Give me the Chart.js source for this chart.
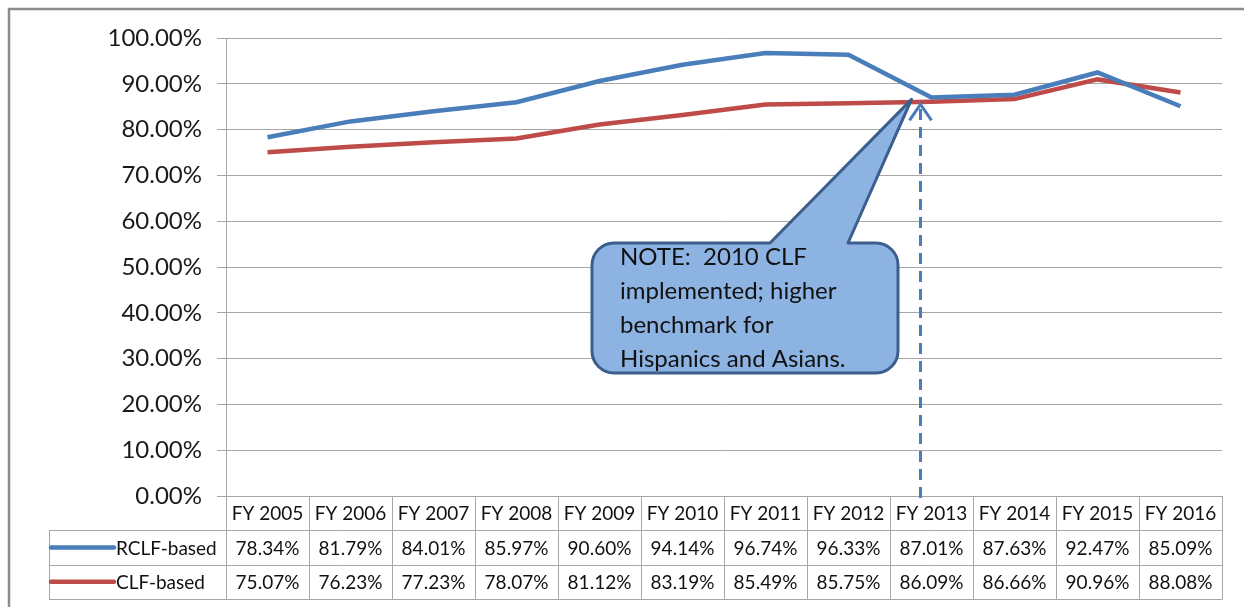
<!DOCTYPE html>
<html>
<head>
<meta charset="utf-8">
<script src="https://cdn.jsdelivr.net/npm/chart.js@4.4.1/dist/chart.umd.min.js"></script>
<style>
html,body{margin:0;padding:0;background:#fff;}
#wrap{width:1244px;height:607px;position:relative;}
</style>
</head>
<body>
<div id="wrap"><canvas id="c" width="1244" height="607"></canvas></div>
<script>
const categories = ['FY 2005','FY 2006','FY 2007','FY 2008','FY 2009','FY 2010','FY 2011','FY 2012','FY 2013','FY 2014','FY 2015','FY 2016'];
const rclfBased = [78.34, 81.79, 84.01, 85.97, 90.60, 94.14, 96.74, 96.33, 87.01, 87.63, 92.47, 85.09];
const clfBased  = [75.07, 76.23, 77.23, 78.07, 81.12, 83.19, 85.49, 85.75, 86.09, 86.66, 90.96, 88.08];
const seriesNames = ['RCLF-based', 'CLF-based'];
const noteLines = ['NOTE:  2010 CLF', 'implemented; higher', 'benchmark for', 'Hispanics and Asians.'];

const BLUE = '#4A7EBB';
const RED = '#BE4B48';
const GRID = '#A6A6A6';
const FONT = 'Lato, "Open Sans", sans-serif';

const overlay = {
  id: 'overlay',
  beforeDraw(chart) {
    const ctx = chart.ctx;
    ctx.save();
    ctx.strokeStyle = '#8C8C8C';
    ctx.lineWidth = 2.5;
    ctx.beginPath();
    ctx.moveTo(9, 640);
    ctx.lineTo(9, 9);
    ctx.lineTo(1260, 9);
    ctx.stroke();
    ctx.restore();
  },
  afterDraw(chart) {
    const ctx = chart.ctx;
    const xs = chart.scales.x, ys = chart.scales.y;
    const ca = chart.chartArea;
    const n = categories.length;
    const cw = (ca.right - ca.left) / n;
    const top = ca.bottom;
    const rowH = 34.3;
    const r1 = top + rowH, r2 = top + 2 * rowH, r3 = top + 3 * rowH;
    const tableLeft = 49;
    ctx.save();
    // table grid
    ctx.strokeStyle = GRID;
    ctx.lineWidth = 1;
    ctx.beginPath();
    for (let i = 0; i <= n; i++) {
      const x = Math.round(ca.left + i * cw) + 0.5;
      ctx.moveTo(x, top);
      ctx.lineTo(x, r3);
    }
    ctx.moveTo(tableLeft + 0.5, r1);
    ctx.lineTo(tableLeft + 0.5, r3);
    [r1, r2, r3].forEach(y => {
      const yy = Math.round(y) + 0.5;
      ctx.moveTo(tableLeft, yy);
      ctx.lineTo(ca.right + 0.5, yy);
    });
    ctx.stroke();
    // texts
    ctx.fillStyle = '#111';
    ctx.font = '19px ' + FONT;
    ctx.textAlign = 'center';
    ctx.textBaseline = 'middle';
    for (let i = 0; i < n; i++) {
      const cx = xs.getPixelForValue(i);
      ctx.fillText(categories[i], cx, (top + r1) / 2 + 1);
      ctx.fillText(rclfBased[i].toFixed(2) + '%', cx, (r1 + r2) / 2 + 1);
      ctx.fillText(clfBased[i].toFixed(2) + '%', cx, (r2 + r3) / 2 + 1);
    }
    // legend keys
    const keys = [[BLUE, seriesNames[0], (r1 + r2) / 2], [RED, seriesNames[1], (r2 + r3) / 2]];
    ctx.textAlign = 'left';
    keys.forEach(([col, name, y]) => {
      ctx.strokeStyle = col;
      ctx.lineWidth = 4.5;
      ctx.lineCap = 'round';
      ctx.beginPath();
      ctx.moveTo(51, y);
      ctx.lineTo(114, y);
      ctx.stroke();
      ctx.fillStyle = '#111';
      ctx.fillText(name, 116, y + 1);
    });
    ctx.lineCap = 'butt';

    // dashed arrow
    const ax = xs.getPixelForValue(8) - 11;
    const ayTop = ys.getPixelForValue(0.868) + 6;
    ctx.strokeStyle = BLUE;
    ctx.lineWidth = 3;
    ctx.setLineDash([11, 7]);
    ctx.beginPath();
    ctx.moveTo(ax, top + 2);
    ctx.lineTo(ax, ayTop + 4);
    ctx.stroke();
    ctx.setLineDash([]);
    ctx.beginPath();
    ctx.moveTo(ax - 11, ayTop + 16);
    ctx.lineTo(ax, ayTop);
    ctx.lineTo(ax + 11, ayTop + 16);
    ctx.stroke();

    // callout
    const tipX = xs.getPixelForValue(8) - 20;
    const tipY = ys.getPixelForValue(0.866);
    const bx = 592, by = 243, bw = 306, bh = 130, rr = 22;
    const b1 = 770, b2 = 848;
    ctx.beginPath();
    ctx.moveTo(bx + rr, by);
    ctx.lineTo(b1, by);
    ctx.lineTo(tipX, tipY);
    ctx.lineTo(b2, by);
    ctx.lineTo(bx + bw - rr, by);
    ctx.arcTo(bx + bw, by, bx + bw, by + rr, rr);
    ctx.lineTo(bx + bw, by + bh - rr);
    ctx.arcTo(bx + bw, by + bh, bx + bw - rr, by + bh, rr);
    ctx.lineTo(bx + rr, by + bh);
    ctx.arcTo(bx, by + bh, bx, by + bh - rr, rr);
    ctx.lineTo(bx, by + rr);
    ctx.arcTo(bx, by, bx + rr, by, rr);
    ctx.closePath();
    ctx.fillStyle = '#8DB3E2';
    ctx.fill();
    ctx.strokeStyle = '#3B5E8C';
    ctx.lineWidth = 3;
    ctx.lineJoin = 'round';
    ctx.stroke();
    ctx.fillStyle = '#111';
    ctx.font = '24px ' + FONT;
    ctx.textAlign = 'left';
    ctx.textBaseline = 'middle';
    noteLines.forEach((t, i) => ctx.fillText(t, 620, 257 + i * 34));
    ctx.restore();
  }
};

new Chart(document.getElementById('c'), {
  type: 'line',
  data: {
    labels: categories,
    datasets: [
      { label: seriesNames[0], data: rclfBased.map(v => v / 100), borderColor: BLUE, borderWidth: 4.5, pointRadius: 0, tension: 0, fill: false },
      { label: seriesNames[1], data: clfBased.map(v => v / 100), borderColor: RED, borderWidth: 4.5, pointRadius: 0, tension: 0, fill: false }
    ]
  },
  options: {
    responsive: false,
    animation: false,
    events: [],
    layout: { padding: { top: 38, right: 22, bottom: 111, left: 0 } },
    plugins: { legend: { display: false }, tooltip: { enabled: false }, title: { display: false } },
    scales: {
      x: { type: 'category', offset: true, display: false },
      y: {
        min: 0, max: 1,
        afterFit(s) { s.width = 226; },
        ticks: {
          stepSize: 0.1,
          padding: 15,
          color: '#1a1a1a',
          font: { family: FONT, size: 24 },
          callback: v => (v * 100).toFixed(2) + '%'
        },
        grid: { color: GRID, lineWidth: 1, tickLength: 9, drawTicks: true },
        border: { color: GRID, width: 1 }
      }
    }
  },
  plugins: [overlay]
});
</script>
</body>
</html>
